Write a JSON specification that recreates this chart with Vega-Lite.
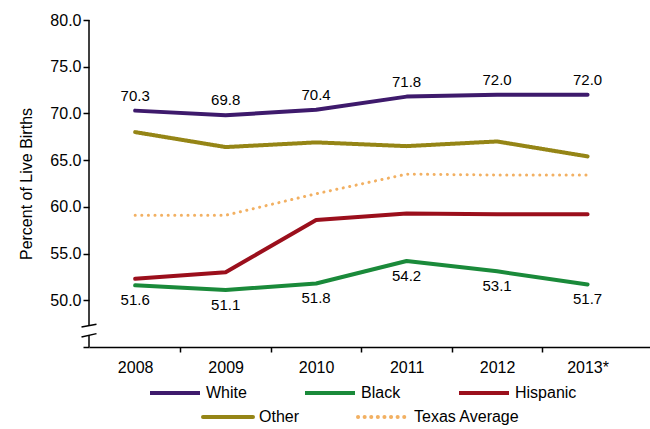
{
  "$schema": "https://vega.github.io/schema/vega-lite/v6.json",
  "width": 561,
  "height": 327,
  "autosize": "none",
  "padding": {"left": 89, "top": 20, "right": 0, "bottom": 82},
  "config": {
    "font": "Liberation Sans",
    "view": {"stroke": null},
    "axis": {"grid": false}
  },
  "datasets": {
    "births": [
      {"year": 2008, "series": "White", "value": 70.3},
      {"year": 2009, "series": "White", "value": 69.8},
      {"year": 2010, "series": "White", "value": 70.4},
      {"year": 2011, "series": "White", "value": 71.8},
      {"year": 2012, "series": "White", "value": 72.0},
      {"year": 2013, "series": "White", "value": 72.0},
      {"year": 2008, "series": "Black", "value": 51.6},
      {"year": 2009, "series": "Black", "value": 51.1},
      {"year": 2010, "series": "Black", "value": 51.8},
      {"year": 2011, "series": "Black", "value": 54.2},
      {"year": 2012, "series": "Black", "value": 53.1},
      {"year": 2013, "series": "Black", "value": 51.7},
      {"year": 2008, "series": "Hispanic", "value": 52.3},
      {"year": 2009, "series": "Hispanic", "value": 53.0},
      {"year": 2010, "series": "Hispanic", "value": 58.6},
      {"year": 2011, "series": "Hispanic", "value": 59.3},
      {"year": 2012, "series": "Hispanic", "value": 59.2},
      {"year": 2013, "series": "Hispanic", "value": 59.2},
      {"year": 2008, "series": "Other", "value": 68.0},
      {"year": 2009, "series": "Other", "value": 66.4},
      {"year": 2010, "series": "Other", "value": 66.9},
      {"year": 2011, "series": "Other", "value": 66.5},
      {"year": 2012, "series": "Other", "value": 67.0},
      {"year": 2013, "series": "Other", "value": 65.4},
      {"year": 2008, "series": "Texas Average", "value": 59.1},
      {"year": 2009, "series": "Texas Average", "value": 59.1},
      {"year": 2010, "series": "Texas Average", "value": 61.4},
      {"year": 2011, "series": "Texas Average", "value": 63.5},
      {"year": 2012, "series": "Texas Average", "value": 63.4},
      {"year": 2013, "series": "Texas Average", "value": 63.4}
    ]
  },
  "data": {"name": "births"},
  "encoding": {
    "x": {
      "field": "year",
      "type": "quantitative",
      "scale": {"domain": [2007.49, 2013.69], "nice": false, "zero": false},
      "axis": {
        "title": null,
        "values": [2008, 2008.5, 2009, 2009.5, 2010, 2010.5, 2011, 2011.5, 2012, 2012.5, 2013],
        "labelExpr": "datum.value === 2013 ? '2013*' : (datum.value % 1 === 0 ? '' + datum.value : '')",
        "labelOverlap": false,
        "labelFontSize": 16,
        "labelColor": "black",
        "labelPadding": 7,
        "domainColor": "black",
        "domainWidth": 1.5,
        "tickColor": "black",
        "tickWidth": 1.5,
        "tickSize": 5,
        "tickOpacity": {"condition": {"test": "datum.value % 1 === 0", "value": 0}, "value": 1}
      }
    },
    "y": {
      "field": "value",
      "type": "quantitative",
      "scale": {"domain": [45, 80], "nice": false, "zero": false},
      "axis": {
        "title": "Percent of Live Births",
        "values": [45, 50, 55, 60, 65, 70, 75, 80],
        "labelExpr": "datum.value < 50 ? '' : format(datum.value, '.1f')",
        "domain": false,
        "tickColor": "black",
        "tickWidth": 1.5,
        "tickSize": 6,
        "labelFontSize": 16,
        "labelColor": "black",
        "labelPadding": 2,
        "titleFontSize": 16,
        "titleFontWeight": "normal",
        "titleColor": "black",
        "titlePadding": 15
      }
    }
  },
  "layer": [
    {
      "transform": [{"filter": {"field": "series", "oneOf": ["White", "Black", "Hispanic"]}}],
      "mark": {"type": "line", "strokeWidth": 4, "strokeCap": "round", "strokeJoin": "round"},
      "encoding": {
        "color": {
          "field": "series",
          "type": "nominal",
          "scale": {"domain": ["White", "Black", "Hispanic"], "range": ["#3e1a6c", "#1a8a3a", "#9b0f1c"]},
          "legend": {
            "title": null,
            "orient": "none",
            "legendX": 59,
            "legendY": 346,
            "direction": "horizontal",
            "symbolType": "stroke",
            "symbolSize": 2500,
            "symbolStrokeWidth": 4,
            "labelFontSize": 16,
            "labelColor": "black",
            "labelOffset": 4,
            "columnPadding": 50,
            "padding": 0
          }
        }
      }
    },
    {
      "transform": [{"filter": {"field": "series", "oneOf": ["Other", "Texas Average"]}}],
      "mark": {"type": "line", "strokeCap": "round", "strokeJoin": "round"},
      "encoding": {
        "color": {
          "field": "series",
          "type": "nominal",
          "scale": {"domain": ["Other", "Texas Average"], "range": ["#958516", "#f2b062"]},
          "legend": {
            "title": null,
            "orient": "none",
            "legendX": 112,
            "legendY": 370,
            "direction": "horizontal",
            "symbolType": "stroke",
            "symbolSize": 2500,
            "symbolStrokeWidth": 4,
            "labelFontSize": 16,
            "labelColor": "black",
            "labelOffset": 4,
            "columnPadding": 50,
            "padding": 0,
            "encode": {
              "symbols": {
                "update": {
                  "strokeDash": {"signal": "datum.value === 'Texas Average' ? [0.1, 6.5] : [1, 0]"},
                  "strokeCap": {"value": "round"}
                }
              }
            }
          }
        },
        "strokeDash": {
          "field": "series",
          "type": "nominal",
          "scale": {"domain": ["Other", "Texas Average"], "range": [[1, 0], [0.1, 6.5]]},
          "legend": null
        },
        "strokeWidth": {
          "field": "series",
          "type": "ordinal",
          "scale": {"domain": ["Other", "Texas Average"], "range": [4, 3]},
          "legend": null
        }
      }
    },
    {
      "transform": [{"filter": "datum.series === 'White'"}],
      "mark": {"type": "text", "dy": -15, "fontSize": 15, "color": "black"},
      "encoding": {"text": {"field": "value", "type": "quantitative", "format": ".1f"}}
    },
    {
      "transform": [{"filter": "datum.series === 'Black'"}],
      "mark": {"type": "text", "dy": 15, "fontSize": 15, "color": "black"},
      "encoding": {"text": {"field": "value", "type": "quantitative", "format": ".1f"}}
    },
    {
      "transform": [{"filter": "datum.series === 'White' && datum.year === 2008"}],
      "mark": {"type": "rule", "color": "black", "strokeWidth": 1.5},
      "encoding": {
        "x": {"datum": 2007.49, "type": "quantitative"},
        "y": {"datum": 80, "type": "quantitative"},
        "y2": {"datum": 47.27}
      }
    },
    {
      "transform": [{"filter": "datum.series === 'White' && datum.year === 2008"}],
      "mark": {"type": "rule", "color": "black", "strokeWidth": 1.5},
      "encoding": {
        "x": {"datum": 2007.49, "type": "quantitative"},
        "y": {"datum": 46.25, "type": "quantitative"},
        "y2": {"datum": 45}
      }
    },
    {
      "transform": [{"filter": "datum.series === 'White' && datum.year === 2008"}],
      "mark": {"type": "rule", "color": "black", "strokeWidth": 1.5, "xOffset": -7.5, "x2Offset": 7.5},
      "encoding": {
        "x": {"datum": 2007.49, "type": "quantitative"},
        "x2": {"datum": 2007.49},
        "y": {"datum": 47.13, "type": "quantitative"},
        "y2": {"datum": 47.43}
      }
    },
    {
      "transform": [{"filter": "datum.series === 'White' && datum.year === 2008"}],
      "mark": {"type": "rule", "color": "black", "strokeWidth": 1.5, "xOffset": -7.5, "x2Offset": 7.5},
      "encoding": {
        "x": {"datum": 2007.49, "type": "quantitative"},
        "x2": {"datum": 2007.49},
        "y": {"datum": 46.07, "type": "quantitative"},
        "y2": {"datum": 46.43}
      }
    }
  ],
  "resolve": {"scale": {"color": "independent"}}
}
